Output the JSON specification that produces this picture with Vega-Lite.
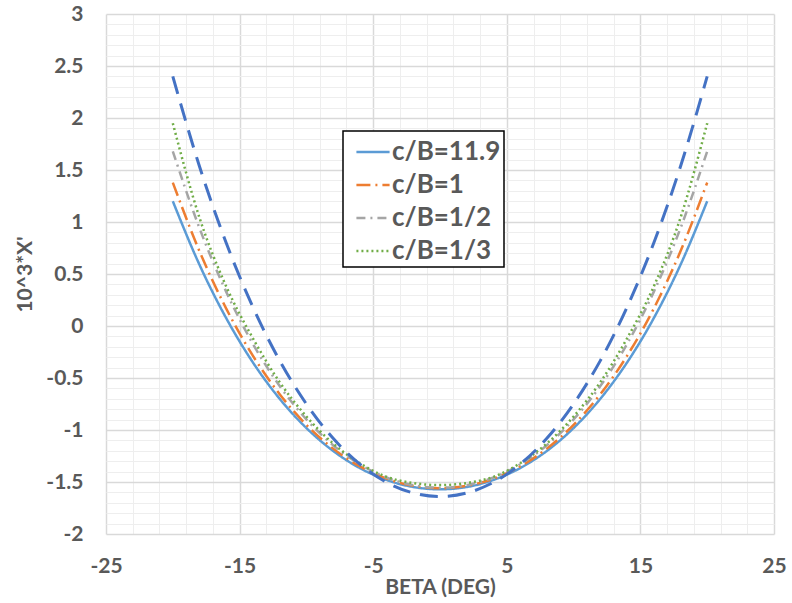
{
  "$schema": "https://vega.github.io/schema/vega-lite/v6.json",
  "width": 668,
  "height": 520,
  "autosize": "none",
  "padding": {"left": 106, "top": 14, "right": 18, "bottom": 69},
  "background": "white",
  "config": {
    "view": {"stroke": null},
    "legend": {"strokeWidth": 1.5},
    "axis": {
      "labelFont": "Lato", "labelFontWeight": "bold", "labelColor": "#595959", "labelFontSize": 21,
      "titleFont": "Lato", "titleFontWeight": "bold", "titleColor": "#595959", "titleFontSize": 21,
      "tickSize": 0, "domain": false, "labelFlush": false
    }
  },
  "datasets": {
    "main": [
      {"s": "c/B=11.9", "x": -20, "y": 1.2}, {"s": "c/B=11.9", "x": -18, "y": 0.588}, {"s": "c/B=11.9", "x": -16, "y": 0.075}, {"s": "c/B=11.9", "x": -14, "y": -0.351}, {"s": "c/B=11.9", "x": -12, "y": -0.7}, {"s": "c/B=11.9", "x": -10, "y": -0.981}, {"s": "c/B=11.9", "x": -8, "y": -1.201}, {"s": "c/B=11.9", "x": -6, "y": -1.366}, {"s": "c/B=11.9", "x": -4, "y": -1.48}, {"s": "c/B=11.9", "x": -2, "y": -1.548}, {"s": "c/B=11.9", "x": 0, "y": -1.57}, {"s": "c/B=11.9", "x": 2, "y": -1.548}, {"s": "c/B=11.9", "x": 4, "y": -1.48}, {"s": "c/B=11.9", "x": 6, "y": -1.366}, {"s": "c/B=11.9", "x": 8, "y": -1.201}, {"s": "c/B=11.9", "x": 10, "y": -0.981}, {"s": "c/B=11.9", "x": 12, "y": -0.7}, {"s": "c/B=11.9", "x": 14, "y": -0.351}, {"s": "c/B=11.9", "x": 16, "y": 0.075}, {"s": "c/B=11.9", "x": 18, "y": 0.588}, {"s": "c/B=11.9", "x": 20, "y": 1.2},
      {"s": "c/B=1", "x": -20, "y": 1.379}, {"s": "c/B=1", "x": -18, "y": 0.718}, {"s": "c/B=1", "x": -16, "y": 0.167}, {"s": "c/B=1", "x": -14, "y": -0.287}, {"s": "c/B=1", "x": -12, "y": -0.656}, {"s": "c/B=1", "x": -10, "y": -0.95}, {"s": "c/B=1", "x": -8, "y": -1.179}, {"s": "c/B=1", "x": -6, "y": -1.35}, {"s": "c/B=1", "x": -4, "y": -1.468}, {"s": "c/B=1", "x": -2, "y": -1.537}, {"s": "c/B=1", "x": 0, "y": -1.56}, {"s": "c/B=1", "x": 2, "y": -1.537}, {"s": "c/B=1", "x": 4, "y": -1.468}, {"s": "c/B=1", "x": 6, "y": -1.35}, {"s": "c/B=1", "x": 8, "y": -1.179}, {"s": "c/B=1", "x": 10, "y": -0.95}, {"s": "c/B=1", "x": 12, "y": -0.656}, {"s": "c/B=1", "x": 14, "y": -0.287}, {"s": "c/B=1", "x": 16, "y": 0.167}, {"s": "c/B=1", "x": 18, "y": 0.718}, {"s": "c/B=1", "x": 20, "y": 1.379},
      {"s": "c/B=1/2", "x": -20, "y": 1.68}, {"s": "c/B=1/2", "x": -18, "y": 0.94}, {"s": "c/B=1/2", "x": -16, "y": 0.328}, {"s": "c/B=1/2", "x": -14, "y": -0.173}, {"s": "c/B=1/2", "x": -12, "y": -0.577}, {"s": "c/B=1/2", "x": -10, "y": -0.898}, {"s": "c/B=1/2", "x": -8, "y": -1.146}, {"s": "c/B=1/2", "x": -6, "y": -1.33}, {"s": "c/B=1/2", "x": -4, "y": -1.457}, {"s": "c/B=1/2", "x": -2, "y": -1.531}, {"s": "c/B=1/2", "x": 0, "y": -1.555}, {"s": "c/B=1/2", "x": 2, "y": -1.531}, {"s": "c/B=1/2", "x": 4, "y": -1.457}, {"s": "c/B=1/2", "x": 6, "y": -1.33}, {"s": "c/B=1/2", "x": 8, "y": -1.146}, {"s": "c/B=1/2", "x": 10, "y": -0.898}, {"s": "c/B=1/2", "x": 12, "y": -0.577}, {"s": "c/B=1/2", "x": 14, "y": -0.173}, {"s": "c/B=1/2", "x": 16, "y": 0.328}, {"s": "c/B=1/2", "x": 18, "y": 0.94}, {"s": "c/B=1/2", "x": 20, "y": 1.68},
      {"s": "c/B=1/3", "x": -20, "y": 1.95}, {"s": "c/B=1/3", "x": -18, "y": 1.04}, {"s": "c/B=1/3", "x": -16, "y": 0.38}, {"s": "c/B=1/3", "x": -14, "y": -0.12}, {"s": "c/B=1/3", "x": -12, "y": -0.54}, {"s": "c/B=1/3", "x": -10, "y": -0.87}, {"s": "c/B=1/3", "x": -8, "y": -1.13}, {"s": "c/B=1/3", "x": -6, "y": -1.32}, {"s": "c/B=1/3", "x": -4, "y": -1.45}, {"s": "c/B=1/3", "x": -2, "y": -1.51}, {"s": "c/B=1/3", "x": 0, "y": -1.53}, {"s": "c/B=1/3", "x": 2, "y": -1.51}, {"s": "c/B=1/3", "x": 4, "y": -1.45}, {"s": "c/B=1/3", "x": 6, "y": -1.32}, {"s": "c/B=1/3", "x": 8, "y": -1.13}, {"s": "c/B=1/3", "x": 10, "y": -0.87}, {"s": "c/B=1/3", "x": 12, "y": -0.54}, {"s": "c/B=1/3", "x": 14, "y": -0.12}, {"s": "c/B=1/3", "x": 16, "y": 0.38}, {"s": "c/B=1/3", "x": 18, "y": 1.04}, {"s": "c/B=1/3", "x": 20, "y": 1.95}
    ],
    "extra": [
      {"x": -20, "y": 2.4}, {"x": -18, "y": 1.534}, {"x": -16, "y": 0.798}, {"x": -14, "y": 0.18}, {"x": -12, "y": -0.333}, {"x": -10, "y": -0.75}, {"x": -8, "y": -1.08}, {"x": -6, "y": -1.329}, {"x": -4, "y": -1.503}, {"x": -2, "y": -1.606}, {"x": 0, "y": -1.64}, {"x": 2, "y": -1.606}, {"x": 4, "y": -1.503}, {"x": 6, "y": -1.329}, {"x": 8, "y": -1.08}, {"x": 10, "y": -0.75}, {"x": 12, "y": -0.333}, {"x": 14, "y": 0.18}, {"x": 16, "y": 0.798}, {"x": 18, "y": 1.534}, {"x": 20, "y": 2.4}
    ]
  },
  "resolve": {"axis": {"x": "independent", "y": "independent"}},
  "layer": [
    {
      "data": {"name": "extra"},
      "mark": {"type": "line", "strokeOpacity": 0},
      "encoding": {
        "x": {"field": "x", "type": "quantitative", "scale": {"domain": [-25, 25], "nice": false, "zero": false},
          "axis": {"orient": "bottom", "values": [-23, -21, -19, -17, -13, -11, -9, -7, -3, -1, 1, 3, 7, 9, 11, 13, 17, 19, 21, 23], "labels": false, "ticks": false, "title": null, "grid": true, "gridColor": "#eeeeee", "gridWidth": 1}},
        "y": {"field": "y", "type": "quantitative", "scale": {"domain": [-2, 3], "nice": false, "zero": false},
          "axis": {"orient": "left", "values": [-1.9, -1.8, -1.7, -1.6, -1.4, -1.3, -1.2, -1.1, -0.9, -0.8, -0.7, -0.6, -0.4, -0.3, -0.2, -0.1, 0.1, 0.2, 0.3, 0.4, 0.6, 0.7, 0.8, 0.9, 1.1, 1.2, 1.3, 1.4, 1.6, 1.7, 1.8, 1.9, 2.1, 2.2, 2.3, 2.4, 2.6, 2.7, 2.8, 2.9], "labels": false, "ticks": false, "title": null, "grid": true, "gridColor": "#eeeeee", "gridWidth": 1}}
      }
    },
    {
      "data": {"name": "main"},
      "mark": {"type": "line", "strokeWidth": 2.5, "interpolate": "monotone"},
      "encoding": {
        "x": {"field": "x", "type": "quantitative", "scale": {"domain": [-25, 25], "nice": false, "zero": false},
          "axis": {"orient": "bottom", "values": [-25, -15, -5, 5, 15, 25], "labelExpr": "'' + datum.value", "labelPadding": 21, "title": "BETA (DEG)", "titlePadding": 0, "grid": true, "gridColor": "#d9d9d9", "gridWidth": 1.5}},
        "y": {"field": "y", "type": "quantitative", "scale": {"domain": [-2, 3], "nice": false, "zero": false},
          "axis": {"orient": "left", "values": [-2, -1.5, -1, -0.5, 0, 0.5, 1, 1.5, 2, 2.5, 3], "labelExpr": "'' + datum.value", "labelPadding": 23, "title": "10^3*X'", "titlePadding": 10, "grid": true, "gridColor": "#d9d9d9", "gridWidth": 1.5}},
        "color": {"field": "s", "type": "nominal",
          "scale": {"domain": ["c/B=11.9", "c/B=1", "c/B=1/2", "c/B=1/3"], "range": ["#5B9BD5", "#ED7D31", "#A5A5A5", "#70AD47"]},
          "legend": {"title": null, "orient": "none", "legendX": 237, "legendY": 117, "strokeColor": "#000000", "fillColor": "white", "padding": 3, "symbolOffset": 9, "labelExpr": "datum.label + '\u00a0\u00a0\u00a0'", "labelFont": "Lato", "labelFontWeight": "bold", "labelFontSize": 26, "labelColor": "#595959", "symbolType": "stroke", "symbolSize": 1100, "symbolStrokeWidth": 2.5, "rowPadding": 2, "labelOffset": 1}},
        "strokeDash": {"field": "s", "type": "nominal",
          "scale": {"domain": ["c/B=11.9", "c/B=1", "c/B=1/2", "c/B=1/3"], "range": [[1, 0], [14, 5, 2, 5], [9, 5, 2, 5], [2, 3]]},
          "legend": {"title": null, "orient": "none", "legendX": 237, "legendY": 117, "strokeColor": "#000000", "fillColor": "white", "padding": 3, "symbolOffset": 9, "labelExpr": "datum.label + '\u00a0\u00a0\u00a0'", "labelFont": "Lato", "labelFontWeight": "bold", "labelFontSize": 26, "labelColor": "#595959", "symbolType": "stroke", "symbolSize": 1100, "symbolStrokeWidth": 2.5, "rowPadding": 2, "labelOffset": 1}}
      }
    },
    {
      "data": {"name": "extra"},
      "mark": {"type": "line", "strokeWidth": 3, "color": "#4472C4", "strokeDash": [18, 10], "interpolate": "monotone"},
      "encoding": {
        "x": {"field": "x", "type": "quantitative", "axis": null},
        "y": {"field": "y", "type": "quantitative", "axis": null}
      }
    }
  ]
}
